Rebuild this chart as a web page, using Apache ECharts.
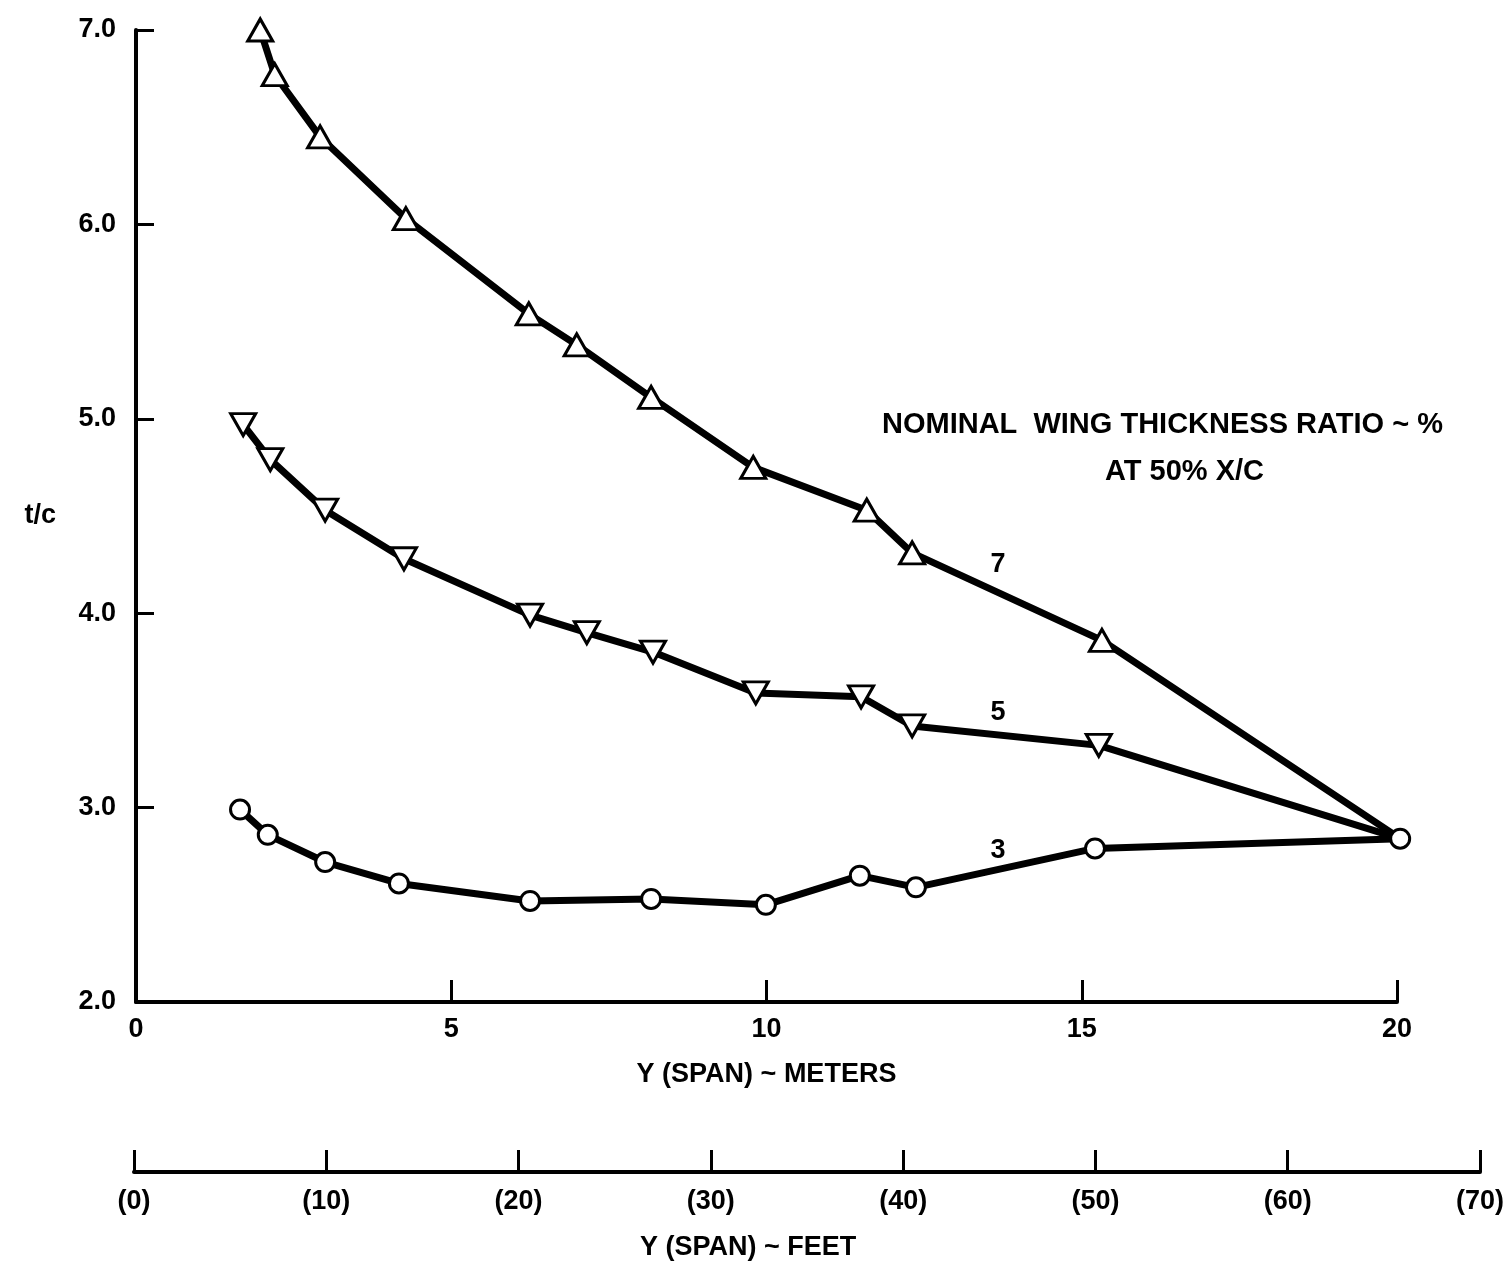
<!DOCTYPE html>
<html>
<head>
<meta charset="utf-8">
<script src="https://cdn.jsdelivr.net/npm/echarts@6/dist/echarts.min.js"></script>
<style>
  html, body { margin: 0; padding: 0; background: #fff; }
  #chart { width: 1510px; height: 1261px; }
</style>
</head>
<body>
<div id="chart"></div>
<script>
// span in meters, t/c in %
const span7 = [1.97, 2.2, 2.92, 4.28, 6.23, 6.99, 8.17, 9.79, 11.59, 12.31, 15.32, 20.05];
const tc7 = [7.0, 6.77, 6.45, 6.03, 5.54, 5.38, 5.11, 4.75, 4.53, 4.31, 3.86, 2.84];

const span5 = [1.7, 2.13, 3.0, 4.25, 6.25, 7.15, 8.2, 9.83, 11.5, 12.31, 15.27, 20.05];
const tc5 = [4.97, 4.79, 4.53, 4.28, 3.99, 3.9, 3.8, 3.59, 3.57, 3.42, 3.32, 2.84];

const span3 = [1.65, 2.09, 3.0, 4.17, 6.25, 8.17, 9.99, 11.48, 12.37, 15.21, 20.05];
const tc3 = [2.99, 2.86, 2.72, 2.61, 2.52, 2.53, 2.5, 2.65, 2.59, 2.79, 2.84];

// where the curve numbers sit
const curveNames = ["7", "5", "3"];
const curveLabelAt = [[13.67, 4.25], [13.67, 3.49], [13.67, 2.78]];

const feetTicks = ["(0)", "(10)", "(20)", "(30)", "(40)", "(50)", "(60)", "(70)"];

const font = "Liberation Sans";
const fs = 27;

function pts(xs, ys, lastNoSymbol) {
  return xs.map((x, i) => {
    if (lastNoSymbol && i == xs.length - 1) {
      return { value: [x, ys[i]], symbol: "none" };
    }
    return [x, ys[i]];
  });
}

function curveLabel(i) {
  return {
    symbol: "circle",
    symbolSize: 1,
    itemStyle: { color: "rgba(0,0,0,0)" },
    silent: true,
    data: [
      {
        coord: curveLabelAt[i],
        label: {
          show: true,
          position: "inside",
          formatter: curveNames[i],
          color: "#000",
          fontFamily: font,
          fontWeight: "bold",
          fontSize: fs,
        },
      },
    ],
  };
}

const chart = echarts.init(document.getElementById("chart"));

const lineBase = {
  type: "line",
  xAxisIndex: 0,
  yAxisIndex: 0,
  clip: false,
  lineStyle: { color: "#000", width: 7 },
  itemStyle: { color: "#fff", borderColor: "#000", borderWidth: 3 },
  z: 3,
  animation: false,
};

const axisText = { color: "#000", fontSize: fs, fontWeight: "bold", fontFamily: font };

let option = {
  backgroundColor: "#fff",
  textStyle: { fontFamily: font },
  grid: [
    { left: 136, top: 30, width: 1261, height: 972 },
    { left: 134, top: 1150, width: 1346, height: 22 },
  ],
  xAxis: [
    {
      gridIndex: 0,
      type: "value",
      min: 0,
      max: 20,
      interval: 5,
      name: "Y (SPAN) ~ METERS",
      nameLocation: "middle",
      nameGap: 59,
      nameTextStyle: axisText,
      axisLine: { show: true, lineStyle: { color: "#000", width: 4 } },
      axisTick: { show: true, inside: true, length: 22, lineStyle: { color: "#000", width: 3 } },
      axisLabel: Object.assign({ margin: 14 }, axisText),
      splitLine: { show: false },
    },
    {
      gridIndex: 1,
      type: "value",
      min: 0,
      max: 70,
      interval: 10,
      axisLine: { show: true, lineStyle: { color: "#000", width: 4 } },
      axisTick: { show: true, inside: true, length: 22, lineStyle: { color: "#000", width: 3 } },
      axisLabel: Object.assign(
        {
          margin: 16,
          formatter: (v) => feetTicks[Math.round(v / 10)],
        },
        axisText
      ),
      splitLine: { show: false },
    },
  ],
  yAxis: [
    {
      gridIndex: 0,
      type: "value",
      min: 2,
      max: 7,
      interval: 1,
      name: "t/c",
      nameLocation: "middle",
      nameRotate: 0,
      nameGap: 80,
      nameTextStyle: Object.assign({ align: "right" }, axisText),
      axisLine: { show: true, lineStyle: { color: "#000", width: 4 } },
      axisTick: { show: true, inside: true, length: 18, lineStyle: { color: "#000", width: 3 } },
      axisLabel: Object.assign(
        {
          margin: 20,
          formatter: (v) => v.toFixed(1),
        },
        axisText
      ),
      splitLine: { show: false },
    },
    {
      gridIndex: 1,
      type: "value",
      show: false,
    },
  ],
  graphic: [
    {
      type: "text",
      left: 882,
      top: 410,
      style: {
        text: "NOMINAL  WING THICKNESS RATIO ~ %",
        fill: "#000",
        font: "bold 29px 'Liberation Sans'",
      },
    },
    {
      type: "text",
      left: 1105,
      top: 457,
      style: {
        text: "AT 50% X/C",
        fill: "#000",
        font: "bold 29px 'Liberation Sans'",
      },
    },
    {
      type: "text",
      left: 640,
      top: 1234,
      style: {
        text: "Y (SPAN) ~ FEET",
        fill: "#000",
        font: "bold 27px 'Liberation Sans'",
      },
    },
  ],
  series: [
    Object.assign({}, lineBase, {
      name: "7",
      data: pts(span7, tc7, true),
      symbol: "triangle",
      symbolSize: [25, 22],
      markPoint: curveLabel(0),
    }),
    Object.assign({}, lineBase, {
      name: "5",
      data: pts(span5, tc5, true),
      symbol: "triangle",
      symbolRotate: 180,
      symbolSize: [25, 22],
      markPoint: curveLabel(1),
    }),
    Object.assign({}, lineBase, {
      name: "3",
      data: pts(span3, tc3, false),
      symbol: "circle",
      symbolSize: 19,
      z: 4,
      markPoint: curveLabel(2),
    }),
  ],
};

option && chart.setOption(option);
</script>
</body>
</html>
